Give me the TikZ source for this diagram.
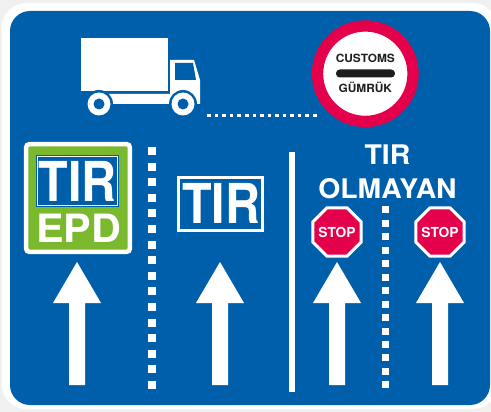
\documentclass[tikz,border=0pt]{standalone}
\usepackage{fontspec}
\setmainfont{TeX Gyre Heros}
\usetikzlibrary{shapes.geometric}
\definecolor{signblue}{HTML}{005FAA}
\definecolor{signred}{HTML}{E4004B}
\definecolor{signgreen}{HTML}{7AB82E}
\definecolor{signblack}{HTML}{1D1D1B}
\tikzset{
  tick/.style={fill=white,draw=none,minimum size=#1,inner sep=0pt,outer sep=0pt,rectangle},
  tirtext/.style={text=white,inner sep=0pt,xscale=.88,font=\bfseries\fontsize{55}{55}\selectfont},
  headtext/.style={text=white,inner sep=0pt,xscale=1.05,font=\bfseries\fontsize{27}{27}\selectfont},
  stopsign/.style={regular polygon,regular polygon sides=8,minimum size=52.4pt,inner sep=0pt,
    draw=white,line width=3pt,fill=signred},
  stoptext/.style={text=white,inner sep=0pt,font=\bfseries\fontsize{13.8}{13.8}\selectfont},
  customstext/.style={inner sep=0pt,xscale=1.05,font=\bfseries\fontsize{11.3}{11.3}\selectfont,text=signblack},
  upshaft/.style={fill=white,draw=none}
}
\newcommand{\uparrowat}[1]{\fill[upshaft] (#1-8,385) -- (#1-8,303) -- (#1-24,303) -- (#1,262) -- (#1+24,303) -- (#1+8,303) -- (#1+8,385) -- cycle;}
\begin{document}
\begin{tikzpicture}[x=1pt,y=-1pt]
\useasboundingbox (0,0) rectangle (491,412);
\fill[black!6] (0,0) rectangle (491,412);
\fill[white,rounded corners=24pt] (2,3) rectangle (497,409);
\fill[signblue,rounded corners=20pt] (10,11) rectangle (490,405);
% truck
\fill[white] (81,38) rectangle (168,91);
\fill[white] (170,60) -- (194,60) -- (200,80) -- (200,104) -- (107,104) -- (107,94) -- (170,94) -- cycle;
\fill[signblue] (175,63) -- (193,63) -- (196,80) -- (175,80) -- cycle;
\fill[signblue] (99,104) circle (14);
\fill[signblue] (183,104) circle (14);
\fill[white] (99,104) circle (11.5);
\fill[white] (183,104) circle (11.5);
\fill[signblue] (99,104) circle (5.5);
\fill[signblue] (183,104) circle (5.5);
% dotted road
\foreach \i in {0,...,14}{\node[tick=3.6pt] (roaddot\i) at ({209+\i*7.55},115.5) {};}
% customs sign
\node[circle,fill=white,draw=signred,line width=11.3pt,minimum size=95.5pt,inner sep=0pt] (customs) at (365.3,73.7) {};
\fill[signblack,rounded corners=3.8pt] (336,69.5) rectangle (395,77.5);
\node[customstext] (customstext) at (365.3,58.5) {CUSTOMS};
\node[customstext] (gumruk) at (365.3,87.5) {GÜMRÜK};
% TIR EPD panel
\draw[white,line width=4.5pt,fill=signgreen,rounded corners=3pt] (26.2,144.2) rectangle (129.8,251.8);
\fill[signblue] (36,155) rectangle (119,207);
\draw[white,line width=0.7pt] (37.5,156.5) rectangle (117.5,205.5);
\node[tirtext] (tirone) at (77.5,181) {TIR};
\node[text=white,inner sep=0pt,xscale=1.06,font=\bfseries\fontsize{39}{39}\selectfont] (epd) at (78.5,228) {EPD};
% divider dots 1
\foreach \i in {0,...,15}{\node[tick=8pt] (divone\i) at (151.5,{151+\i*15.6}) {};}
% TIR panel
\draw[white,line width=3pt] (178.5,177.5) rectangle (262.5,230.2);
\node[tirtext] (tirtwo) at (221,203.5) {TIR};
% solid divider
\fill[white] (289,152) rectangle (295,392);
% TIR OLMAYAN
\node[headtext] (tirthree) at (387.5,155) {TIR};
\node[headtext] (olmayan) at (387.5,189) {OLMAYAN};
% stop signs
\node[stopsign] (stopa) at (337,232) {};
\node[stopsign] (stopb) at (440,232) {};
\node[stoptext] (stopatext) at (337,232) {STOP};
\node[stoptext] (stopbtext) at (440,232) {STOP};
% divider dots 2
\foreach \i in {0,...,13}{\node[tick=7pt] (divtwo\i) at (385,{210+\i*13.45}) {};}
% arrows
\uparrowat{77}
\uparrowat{220}
\uparrowat{337}
\uparrowat{440}
\end{tikzpicture}
\end{document}
